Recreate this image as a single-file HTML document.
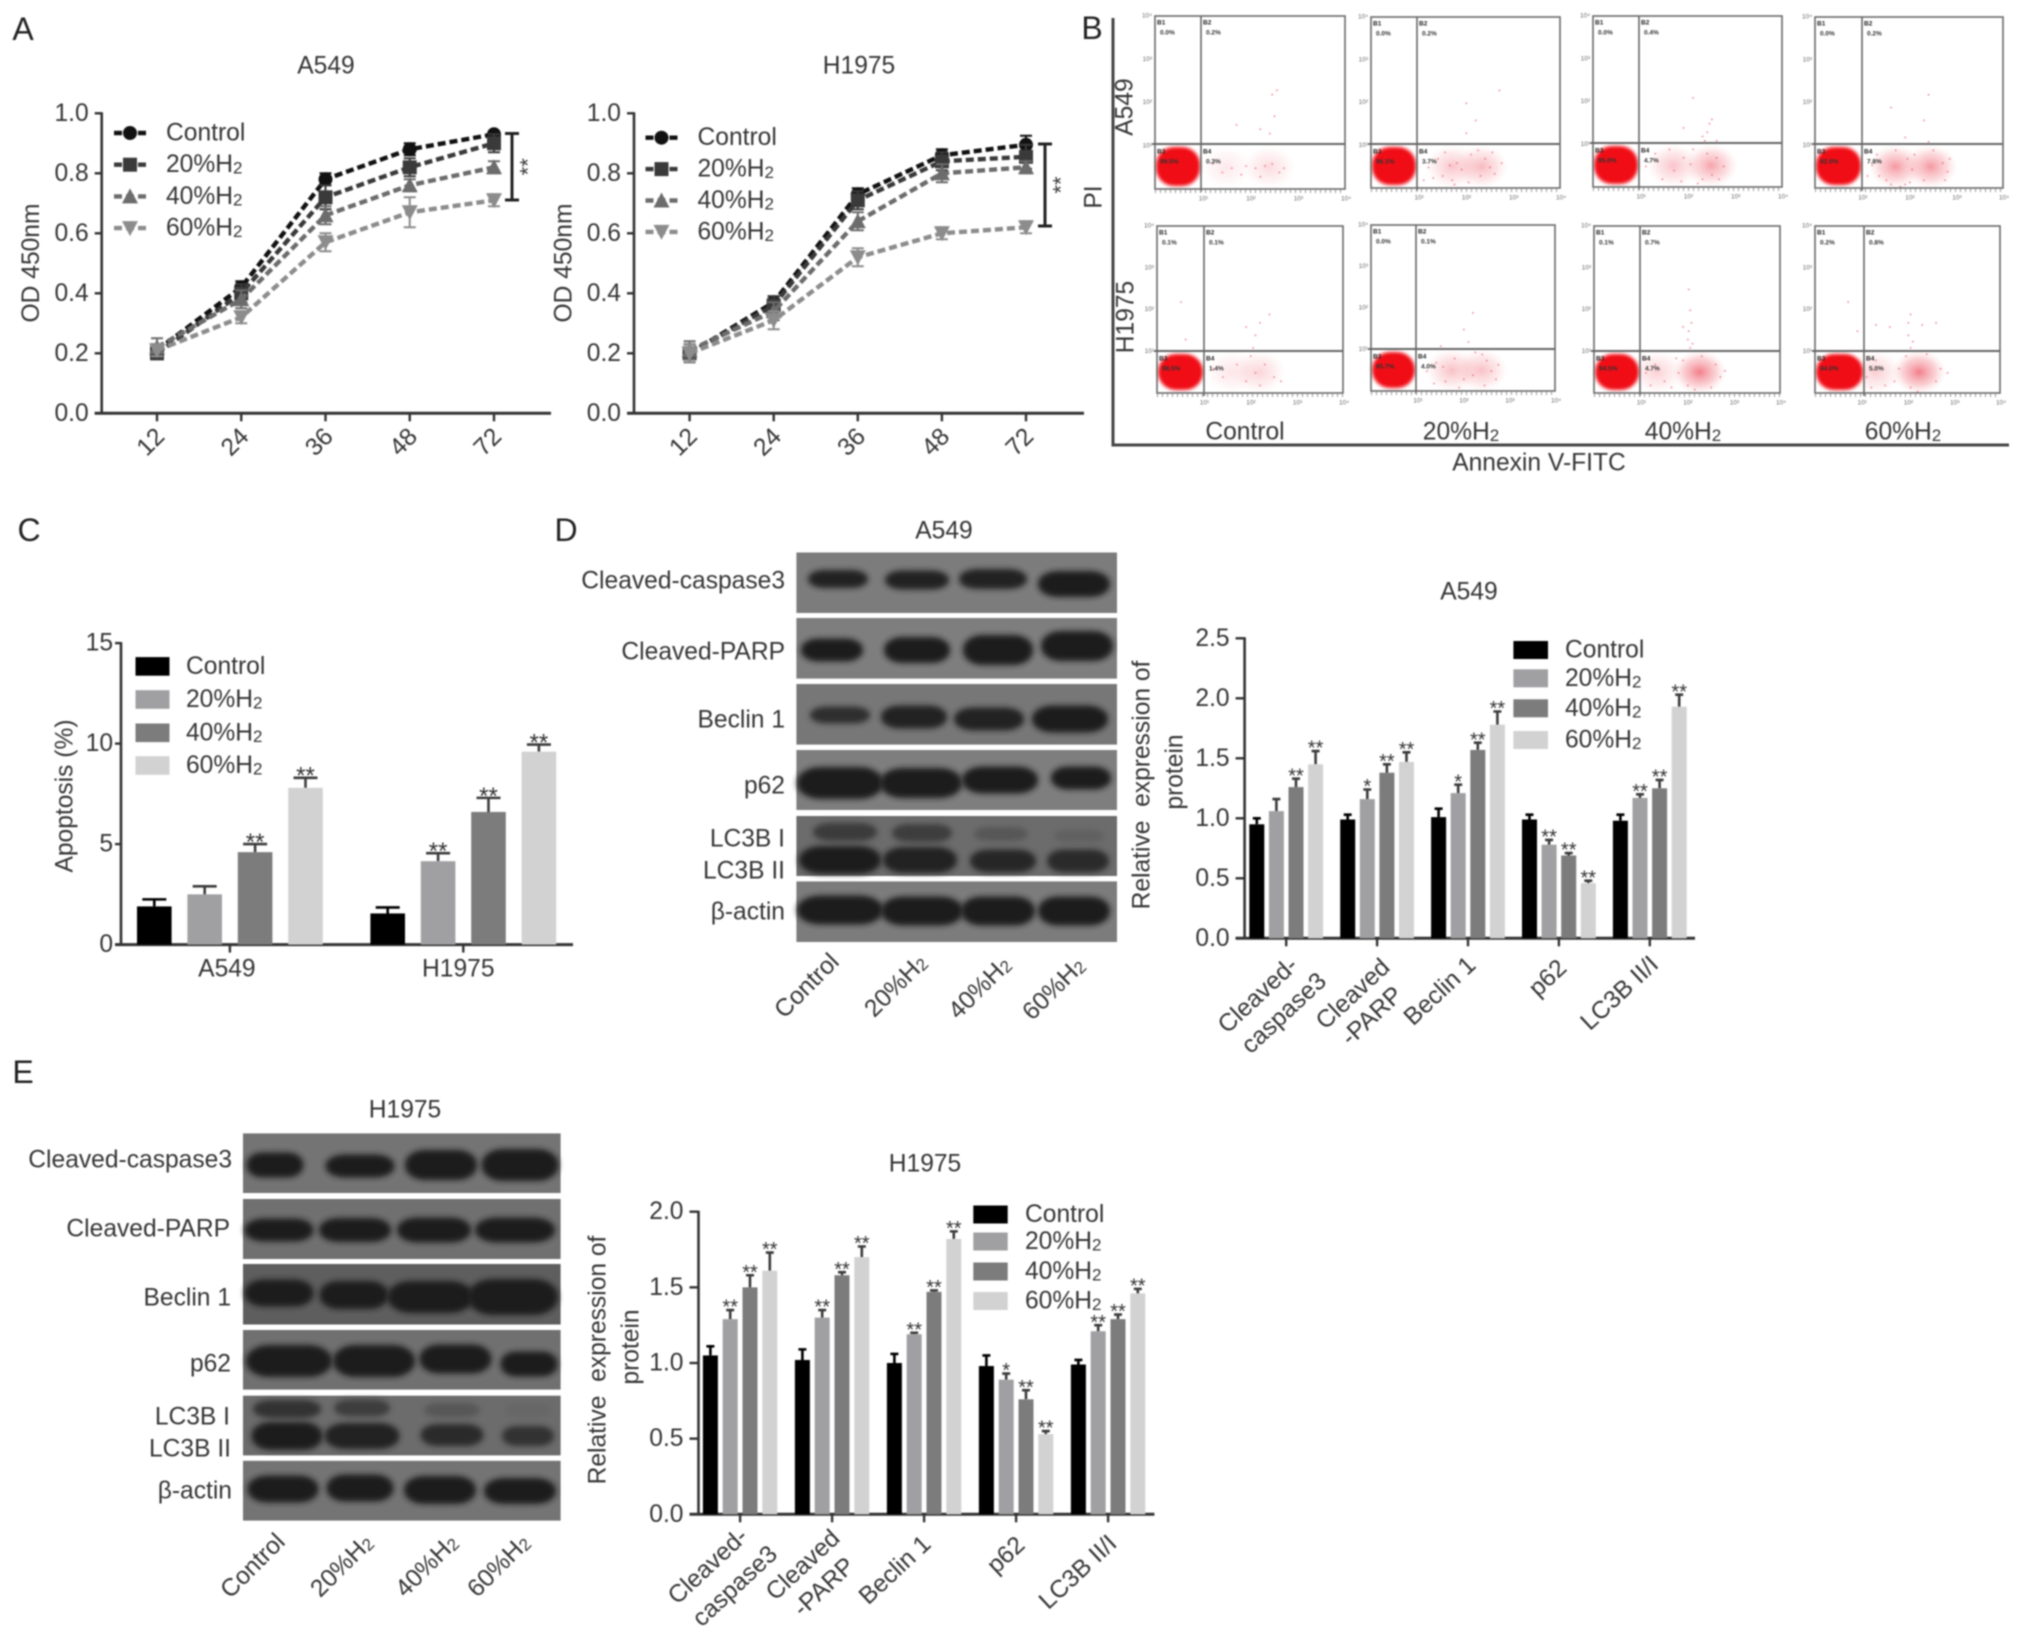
<!DOCTYPE html>
<html lang="en">
<head>
<meta charset="utf-8">
<title>Effects of H2 on A549 and H1975 cells</title>
<style>
html,body{margin:0;padding:0;background:#fff;}
svg{display:block;filter:blur(0.75px);}
text{font-family:"Liberation Sans",sans-serif;font-size:24.6px;fill:#363636;}
.letter{font-size:32px;fill:#222;}
.mid{text-anchor:middle;dominant-baseline:central;}
.end{text-anchor:end;dominant-baseline:central;}
</style>
</head>
<body>
<svg id="figure" width="2021" height="1638" viewBox="0 0 2021 1638" xmlns="http://www.w3.org/2000/svg">
<defs>
<filter id="soft" x="-20%" y="-50%" width="140%" height="200%"><feGaussianBlur stdDeviation="3"/></filter>
<filter id="softer" x="-20%" y="-20%" width="140%" height="140%"><feGaussianBlur stdDeviation="1.6"/></filter>
<radialGradient id="blob"><stop offset="0" stop-color="#ea0410"/><stop offset="0.62" stop-color="#f00c18"/><stop offset="0.82" stop-color="#f4505c" stop-opacity="0.75"/><stop offset="1" stop-color="#f8b0b0" stop-opacity="0"/></radialGradient>
<radialGradient id="cloud"><stop offset="0" stop-color="#ee5868"/><stop offset="0.6" stop-color="#f49098" stop-opacity="0.55"/><stop offset="1" stop-color="#f8c8c8" stop-opacity="0"/></radialGradient>
</defs>
<rect x="0" y="0" width="2021" height="1638" fill="#fff"/>

<text class="letter mid" x="23" y="29">A</text>
<text class="letter mid" x="1092" y="28">B</text>
<text class="letter mid" x="29" y="530">C</text>
<text class="letter mid" x="566" y="530">D</text>
<text class="letter mid" x="23" y="1072">E</text>

<g id="line-a549"></g>
<g id="line-h1975"></g>

<g id="flow-panels"></g>
<g>
<path d="M1113 18V445H2009" fill="none" stroke="#444" stroke-width="3"/>
<text class="mid" transform="rotate(-90 1094 197)" x="1094" y="197">PI</text>
<text class="mid" transform="rotate(-90 1125 107)" x="1125" y="107">A549</text>
<text class="mid" transform="rotate(-90 1126 317)" x="1126" y="317">H1975</text>
<text class="mid" x="1245" y="432">Control</text>
<text class="mid" x="1461" y="432">20%H<tspan font-size="17" dy="3">2</tspan></text>
<text class="mid" x="1683" y="432">40%H<tspan font-size="17" dy="3">2</tspan></text>
<text class="mid" x="1903" y="432">60%H<tspan font-size="17" dy="3">2</tspan></text>
<text class="mid" x="1539" y="463">Annexin V-FITC</text>
</g>

<g id="bar-apoptosis"></g>

<text class="mid" x="944" y="531">A549</text>
<g id="blot-d"></g>
<g>
<text class="end" x="785" y="581">Cleaved-caspase3</text>
<text class="end" x="785" y="652">Cleaved-PARP</text>
<text class="end" x="785" y="720">Beclin 1</text>
<text class="end" x="785" y="786">p62</text>
<text class="end" x="785" y="839">LC3B I</text>
<text class="end" x="785" y="871">LC3B II</text>
<text class="end" x="785" y="912">β-actin</text>
<text class="mid" transform="rotate(-45 807 986)" x="807" y="986">Control</text>
<text class="mid" transform="rotate(-45 896 986)" x="896" y="986">20%H<tspan font-size="17" dy="3">2</tspan></text>
<text class="mid" transform="rotate(-45 980 988)" x="980" y="988">40%H<tspan font-size="17" dy="3">2</tspan></text>
<text class="mid" transform="rotate(-45 1054 989)" x="1054" y="989">60%H<tspan font-size="17" dy="3">2</tspan></text>
</g>

<g id="bar-d"></g>

<text class="mid" x="405" y="1110">H1975</text>
<g id="blot-e"></g>
<g>
<text class="end" x="232" y="1160">Cleaved-caspase3</text>
<text class="end" x="230" y="1229">Cleaved-PARP</text>
<text class="end" x="231" y="1298">Beclin 1</text>
<text class="end" x="231" y="1364">p62</text>
<text class="end" x="230" y="1417">LC3B I</text>
<text class="end" x="231" y="1449">LC3B II</text>
<text class="end" x="232" y="1491">β-actin</text>
<text class="mid" transform="rotate(-45 253 1566)" x="253" y="1566">Control</text>
<text class="mid" transform="rotate(-45 342 1566)" x="342" y="1566">20%H<tspan font-size="17" dy="3">2</tspan></text>
<text class="mid" transform="rotate(-45 427 1566)" x="427" y="1566">40%H<tspan font-size="17" dy="3">2</tspan></text>
<text class="mid" transform="rotate(-45 499 1566)" x="499" y="1566">60%H<tspan font-size="17" dy="3">2</tspan></text>
</g>

<g id="bar-e"></g>
</svg>

<script>
/* ---------- Panel A data ---------- */
const lineCategories = ['12', '24', '36', '48', '72'];
const lineTicks = ['0.0', '0.2', '0.4', '0.6', '0.8', '1.0'];
const doseLabels = ['Control', '20%H2', '40%H2', '60%H2'];

const a549Control = [0.21, 0.42, 0.78, 0.88, 0.93];
const a549H20 = [0.20, 0.40, 0.72, 0.82, 0.90];
const a549H40 = [0.22, 0.38, 0.66, 0.76, 0.82];
const a549H60 = [0.21, 0.32, 0.57, 0.67, 0.71];
const a549ControlErr = [0.02, 0.02, 0.02, 0.02, 0.01];
const a549H20Err = [0.02, 0.03, 0.04, 0.03, 0.03];
const a549H40Err = [0.03, 0.03, 0.03, 0.02, 0.02];
const a549H60Err = [0.02, 0.02, 0.03, 0.05, 0.02];

const h1975Control = [0.20, 0.37, 0.73, 0.86, 0.895];
const h1975H20 = [0.20, 0.36, 0.71, 0.84, 0.855];
const h1975H40 = [0.21, 0.34, 0.64, 0.80, 0.82];
const h1975H60 = [0.20, 0.31, 0.52, 0.60, 0.62];
const h1975ControlErr = [0.03, 0.02, 0.02, 0.02, 0.03];
const h1975H20Err = [0.02, 0.03, 0.03, 0.03, 0.04];
const h1975H40Err = [0.03, 0.03, 0.03, 0.03, 0.02];
const h1975H60Err = [0.03, 0.03, 0.03, 0.02, 0.02];

/* ---------- Panel C data ---------- */
const apoCategories = ['A549', 'H1975'];
const apoTicks = ['0', '5', '10', '15'];
const apoControl = [1.9, 1.55];
const apoH20 = [2.5, 4.15];
const apoH40 = [4.6, 6.6];
const apoH60 = [7.8, 9.6];
const apoControlErr = [0.35, 0.3];
const apoH20Err = [0.4, 0.4];
const apoH40Err = [0.4, 0.7];
const apoH60Err = [0.5, 0.35];
const apoControlStars = ['', ''];
const apoH20Stars = ['', '**'];
const apoH40Stars = ['**', '**'];
const apoH60Stars = ['**', '**'];

/* ---------- Panels D / E bar data ---------- */
const proteinCategories = [['Cleaved-', 'caspase3'], ['Cleaved', '-PARP'], ['Beclin 1'], ['p62'], ['LC3B II/I']];
const dTicks = ['0.0', '0.5', '1.0', '1.5', '2.0', '2.5'];
const dControl = [0.95, 0.99, 1.01, 0.99, 0.98];
const dH20 = [1.06, 1.16, 1.21, 0.78, 1.17];
const dH40 = [1.26, 1.38, 1.57, 0.69, 1.25];
const dH60 = [1.45, 1.47, 1.78, 0.46, 1.93];
const dControlErr = [0.05, 0.04, 0.07, 0.04, 0.05];
const dH20Err = [0.10, 0.08, 0.07, 0.04, 0.03];
const dH40Err = [0.07, 0.07, 0.06, 0.02, 0.07];
const dH60Err = [0.11, 0.08, 0.11, 0.02, 0.10];
const dControlStars = ['', '', '', '', ''];
const dH20Stars = ['', '*', '*', '**', '**'];
const dH40Stars = ['**', '**', '**', '**', '**'];
const dH60Stars = ['**', '**', '**', '**', '**'];

const eTicks = ['0.0', '0.5', '1.0', '1.5', '2.0'];
const eControl = [1.05, 1.02, 1.00, 0.98, 0.99];
const eH20 = [1.29, 1.30, 1.19, 0.89, 1.21];
const eH40 = [1.50, 1.58, 1.47, 0.76, 1.29];
const eH60 = [1.61, 1.70, 1.82, 0.53, 1.46];
const eControlErr = [0.06, 0.07, 0.06, 0.07, 0.03];
const eH20Err = [0.06, 0.05, 0.01, 0.04, 0.04];
const eH40Err = [0.08, 0.02, 0.01, 0.06, 0.03];
const eH60Err = [0.12, 0.07, 0.05, 0.02, 0.03];
const eControlStars = ['', '', '', '', ''];
const eH20Stars = ['**', '**', '**', '*', '**'];
const eH40Stars = ['**', '**', '**', '**', '**'];
const eH60Stars = ['**', '**', '**', '**', '**'];

/* ---------- Panel B data: events in decade units (x, y) ---------- */
const flowQ1Pct = ['0.0%', '0.0%', '0.0%', '0.0%', '0.1%', '0.0%', '0.1%', '0.2%'];
const flowQ2Pct = ['0.2%', '0.2%', '0.4%', '0.2%', '0.1%', '0.1%', '0.7%', '0.8%'];
const flowQ3Pct = ['99.5%', '96.1%', '95.0%', '92.0%', '98.5%', '95.7%', '94.5%', '94.0%'];
const flowQ4Pct = ['0.3%', '3.7%', '4.7%', '7.8%', '1.4%', '4.0%', '4.7%', '5.0%'];
const flowCloudStrength = [[0.14, 0.22], [0.36, 0.42], [0.36, 0.55], [0.62, 0.62], [0.16, 0.26], [0.38, 0.38], [0.28, 0.78], [0.3, 0.78]];
const flowCloudX = [[1.5, 2.4], [1.72, 2.34], [1.7, 2.5], [1.71, 2.46], [1.6, 2.2], [1.76, 2.4], [1.35, 2.27], [1.3, 2.25]];
const flowEvents1 = [[1.2,.6],[1.4,.4],[1.6,.5],[1.8,.35],[1.9,.55],[2.1,.5],[2.3,.55],[2.45,.6],[2.6,.4],[2.7,.5],[2.2,.3],[2.4,1.3],[2.5,1.7],[2.45,2.2],[2.2,1.4],[2.55,2.3],[1.7,1.5]];
const flowEvents2 = [[1.2,.5],[1.4,.7],[1.5,.3],[1.7,.2],[1.8,.6],[1.9,.45],[2.1,.8],[2.3,.3],[2.4,.7],[2.5,.5],[2.6,.35],[1.75,.1],[2.0,1.3],[2.2,1.6],[2.0,2.0],[2.7,2.3],[1.1,.2],[1.55,.85],[1.65,.55],[2.25,.9],[2.55,.85],[2.75,.6],[1.3,.25],[2.05,.15]];
const flowEvents3 = [[1.1,.5],[1.3,.8],[1.6,.9],[1.7,.4],[1.9,.7],[2.1,.9],[2.3,.2],[2.4,.8],[2.5,.3],[2.6,.7],[2.2,.1],[2.35,1.1],[2.4,1.3],[2.45,1.5],[2.3,1.2],[2.5,1.6],[2.1,2.1],[1.9,1.4],[2.6,1.1],[1.45,.2],[1.85,.15],[2.75,.5],[2.65,.2],[2.05,.55]];
const flowEvents4 = [[1.1,.3],[1.3,.8],[1.5,.2],[1.7,.9],[1.9,.1],[2.1,.8],[2.3,.2],[2.5,.9],[2.7,.6],[2.8,.4],[2.4,1.1],[2.3,1.6],[2.4,2.2],[1.9,1.2],[1.6,1.9],[2.0,.15],[1.6,.1],[1.2,.55],[1.35,.3],[1.95,.7],[2.05,.45],[2.85,.7],[2.75,.2],[1.8,.05]];
const flowEvents5 = [[1.2,.6],[1.4,.4],[1.7,.7],[1.9,.3],[2.0,.9],[2.1,.5],[2.2,.2],[2.3,.7],[2.5,.4],[2.65,.3],[2.05,1.1],[2.1,1.4],[2.2,1.7],[2.4,1.9],[1.9,1.6],[.6,1.3],[.5,2.2]];
const flowEvents6 = [[1.2,.5],[1.4,.7],[1.6,.25],[1.8,.8],[2.0,.3],[2.2,.4],[2.4,.9],[2.6,.5],[2.7,.3],[2.45,.15],[2.0,1.5],[2.1,1.2],[2.2,1.9],[1.5,1.1],[1.9,.1],[1.35,.2],[1.55,.6],[2.5,.75],[2.75,.65],[2.25,.95]];
const flowEvents7 = [[1.1,.5],[1.3,.7],[1.5,.3],[1.8,.5],[1.9,.8],[2.0,.2],[2.3,.9],[2.5,.15],[2.6,.7],[2.7,.4],[2.05,1.1],[2.0,1.3],[2.02,1.5],[2.08,1.7],[2.05,2.0],[2.02,2.5],[1.9,1.6],[2.1,1.2],[1.65,.15],[1.75,.85],[2.8,.55],[2.15,.1],[1.2,.2]];
const flowEvents8 = [[1.1,.4],[1.3,.8],[1.5,.2],[1.8,.6],[1.95,.9],[2.05,.15],[2.4,.95],[2.6,.3],[2.7,.6],[2.05,1.1],[2.1,1.25],[2.0,1.4],[1.3,1.65],[1.6,1.6],[2.0,1.7],[2.3,1.65],[2.6,1.7],[.9,1.5],[.7,2.2],[2.05,1.9],[2.85,.5],[1.7,.3],[2.2,.05],[1.2,.15]];
const flowEventSets = [flowEvents1, flowEvents2, flowEvents3, flowEvents4, flowEvents5, flowEvents6, flowEvents7, flowEvents8];
const flowDecadeLabels = ['10⁰', '10¹', '10²', '10³', '10⁴'];

/* ---------- Layout only (not data) ---------- */
const flowLayout = [
  {l:1155,r:1345,t:16,b:189,gx:1201,gy:144},{l:1371,r:1560,t:17,b:188,gx:1417,gy:144},
  {l:1593,r:1782,t:16,b:187,gx:1639,gy:143},{l:1815,r:2003,t:17,b:188,gx:1862,gy:144},
  {l:1157,r:1343,t:226,b:393,gx:1204,gy:351},{l:1371,r:1555,t:225,b:391,gx:1416,gy:349},
  {l:1594,r:1780,t:226,b:393,gx:1640,gy:351},{l:1815,r:2000,t:226,b:393,gx:1864,gy:351}
];
const dLabelOffsets = [[[-28,57],[-2,75]],[[-24,56],[-5,78]],[[-28,53]],[[-11,40]],[[-30,55]]];
const eLabelOffsets = [[[-32,52],[-5,72]],[[-29,51],[-8,73]],[[-29,56]],[[-10,41]],[[-30,58]]];
const barFills = ['#000000', '#a0a0a3', '#7c7c7c', '#d2d2d2'];
const lineColors = ['#111111', '#3a3a3a', '#6c6c6c', '#8c8c8c'];

const SVGNS = 'http://www.w3.org/2000/svg';
function mk(parent, tag, attrs) {
  const node = document.createElementNS(SVGNS, tag);
  for (const k in attrs) node.setAttribute(k, attrs[k]);
  parent.appendChild(node);
  return node;
}
function labelText(node, label) {
  if (/H2$/.test(label)) {
    node.appendChild(document.createTextNode(label.slice(0, -1)));
    const sub = mk(node, 'tspan', {'font-size': 17, dy: 3});
    sub.textContent = '2';
  } else {
    node.textContent = label;
  }
}
function slug(s) { return String(s).toLowerCase().replace(/[^a-z0-9]+/g, '-').replace(/^-|-$/g, ''); }

function drawAxes(g, o) {
  const yLine = mk(g, 'line', {x1:o.axisX, x2:o.axisX, y1:o.y(o.max)-1, y2:o.y(0)+1, stroke:'#333', 'stroke-width':2.6});
  
  
  const xLine = mk(g, 'line', {x1:o.axisX-o.tick, x2:o.axisEnd, y1:o.y(0), y2:o.y(0), stroke:'#333', 'stroke-width':3});
  
  
  o.ticks.forEach(function (label) {
    const v = Number(label);
    const tickMark = mk(g, 'line', {x1:o.axisX-o.tick, x2:o.axisX, y1:o.y(v), y2:o.y(v), stroke:'#333', 'stroke-width':2.4});
    
    
    const tickText = mk(g, 'text', {x:o.axisX-o.tick-o.gap, y:o.y(v), 'class':'end'});
    
    
    tickText.textContent = label;
  });
}

function drawTitle(g, x, y, label, name) {
  const t = mk(g, 'text', {x:x, y:y, 'class':'mid'});
  
  
  t.textContent = label;
}

function drawYTitle(g, x, y, label, name) {
  const t = mk(g, 'text', {x:x, y:y, 'class':'mid', transform:'rotate(-90 ' + x + ' ' + y + ')'});
  
  
  t.textContent = label;
}

function drawMarker(g, i, x, y, size, fill) {
  let m;
  if (i === 0) m = mk(g, 'circle', {cx:x, cy:y, r:size, fill:fill});
  else if (i === 1) m = mk(g, 'rect', {x:x-size, y:y-size, width:2*size, height:2*size, fill:fill});
  else if (i === 2) m = mk(g, 'polygon', {points:[x, y-size-1, x+size+1, y+size, x-size-1, y+size].join(' '), fill:fill});
  else m = mk(g, 'polygon', {points:[x, y+size+1, x+size+1, y-size, x-size-1, y-size].join(' '), fill:fill});
  return m;
}

function drawLineChart(c) {
  const g = document.getElementById(c.id);
  const y = function (v) { return c.y0 - v * c.pxPerUnit; };
  const x = function (i) { return c.x0 + i * c.step; };
  drawTitle(g, c.titleX, c.titleY, c.title, 'chart-title');
  drawYTitle(g, c.axisX - 70, 263, 'OD 450nm', 'y-axis-title');
  drawAxes(g, {axisX:c.axisX, axisEnd:c.axisEnd, y:y, max:1, ticks:lineTicks, tick:7, gap:6});
  lineCategories.forEach(function (cat, i) {
    const tk = mk(g, 'line', {x1:x(i), x2:x(i), y1:y(0), y2:y(0)+8, stroke:'#333', 'stroke-width':2.4});
    
    
    const lx = x(i) - 6, ly = y(0) + 29;
    const tl = mk(g, 'text', {x:lx, y:ly, 'class':'mid', transform:'rotate(-45 ' + lx + ' ' + ly + ')'});
    
    
    tl.textContent = cat;
  });
  c.series.forEach(function (vals, s) {
    const color = lineColors[s];
    const errs = c.errors[s];
    const pts = vals.map(function (v, i) { return x(i) + ',' + y(v); }).join(' ');
    const line = mk(g, 'polyline', {points:pts, fill:'none', stroke:color, 'stroke-width':4.4, 'stroke-dasharray':'8 4'});
    
    
    vals.forEach(function (v, i) {
      const err = mk(g, 'path', {d:'M' + (x(i)-6) + ' ' + y(v+errs[i]) + 'H' + (x(i)+6) + 'M' + x(i) + ' ' + y(v+errs[i]) + 'V' + y(v-errs[i]) + 'M' + (x(i)-6) + ' ' + y(v-errs[i]) + 'H' + (x(i)+6), stroke:color, 'stroke-width':2, fill:'none'});
      
      
      const pt = drawMarker(g, s, x(i), y(v), 7, color);
      
      
    });
    const ly = c.legendY + s * c.legendStep;
    const seg = mk(g, 'line', {x1:c.legendX-16, x2:c.legendX+18, y1:ly, y2:ly, stroke:color, 'stroke-width':4.4, 'stroke-dasharray':'8 4'});
    
    
    const lm = drawMarker(g, s, c.legendX, ly, 7, color);
    
    
    const lt = mk(g, 'text', {x:c.legendX+36, y:ly, style:'dominant-baseline:central'});
    
    
    labelText(lt, doseLabels[s]);
  });
  const br = mk(g, 'path', {d:'M' + (c.bracketX-7) + ' ' + c.bracketTop + 'H' + (c.bracketX+7) + 'M' + c.bracketX + ' ' + c.bracketTop + 'V' + c.bracketBottom + 'M' + (c.bracketX-7) + ' ' + c.bracketBottom + 'H' + (c.bracketX+7), stroke:'#222', 'stroke-width':3, fill:'none'});
  
  
  const sx = c.bracketX + 16, sy = (c.bracketTop + c.bracketBottom) / 2;
  const st = mk(g, 'text', {x:sx, y:sy, 'class':'mid', style:'font-size:22px', transform:'rotate(-90 ' + sx + ' ' + sy + ')'});
  
  
  st.textContent = '**';
}

function drawBarChart(c) {
  const g = document.getElementById(c.id);
  const y = function (v) { return c.y0 - v * c.pxPerUnit; };
  const x = function (cat, s) { return c.x0 + cat * c.groupStep + s * c.barStep; };
  const max = Number(c.ticks[c.ticks.length - 1]);
  drawAxes(g, {axisX:c.axisX, axisEnd:c.axisEnd, y:y, max:max, ticks:c.ticks, tick:c.tick, gap:c.gap});
  c.series.forEach(function (vals, s) {
    vals.forEach(function (v, cat) {
      const cx = x(cat, s) + c.barW / 2;
      const err = c.errors[s][cat];
      const w = mk(g, 'path', {d:'M' + (cx-c.capW/2) + ' ' + y(v+err) + 'H' + (cx+c.capW/2) + 'M' + cx + ' ' + y(v+err) + 'V' + y(v), stroke:s === 0 ? '#000' : '#3c3c3c', 'stroke-width':2.6, fill:'none'});
      
      
      const bar = mk(g, 'rect', {x:x(cat, s), y:y(v), width:c.barW, height:y(0)-y(v), fill:barFills[s]});
      
      
      const mark = c.stars[s][cat];
      if (mark) {
        const star = mk(g, 'text', {x:cx, y:y(v+err)+c.starFont*0.58-8, 'text-anchor':'middle', style:'font-size:' + c.starFont + 'px;fill:#333'});
        
        
        star.textContent = mark;
      }
    });
  });
  c.categories.forEach(function (lines, cat) {
    const tx = x(cat, 1.5) + c.barW / 2;
    const tk = mk(g, 'line', {x1:tx, x2:tx, y1:y(0), y2:y(0)+8, stroke:'#333', 'stroke-width':2.4});
    
    
    lines.forEach(function (line, li) {
      const off = c.labelOffsets[cat][li];
      const lx = tx + off[0], ly = y(0) + off[1];
      const attrs = {x:lx, y:ly, 'class':'mid'};
      if (c.labelRotate) attrs.transform = 'rotate(' + c.labelRotate + ' ' + lx + ' ' + ly + ')';
      const tl = mk(g, 'text', attrs);
      
      
      tl.textContent = line;
    });
  });
  doseLabels.forEach(function (label, s) {
    const ly = c.legendY[s];
    const sw = mk(g, 'rect', {x:c.legendX, y:ly-c.swatchH/2, width:c.swatchW, height:c.swatchH, fill:barFills[s]});
    
    
    const lt = mk(g, 'text', {x:c.legendTextX, y:ly, style:'dominant-baseline:central'});
    
    
    labelText(lt, label);
  });
}

/* ---------- Build charts ---------- */
drawLineChart({
  id:'line-a549', title:'A549', titleX:326, titleY:66, y0:413.3, pxPerUnit:300, x0:157, step:84.25,
  axisX:101.7, axisEnd:551, legendX:130, legendY:133, legendStep:31.7, bracketX:512, bracketTop:133.5, bracketBottom:200,
  series:[a549Control, a549H20, a549H40, a549H60], errors:[a549ControlErr, a549H20Err, a549H40Err, a549H60Err]
});
drawLineChart({
  id:'line-h1975', title:'H1975', titleX:859, titleY:66, y0:413.3, pxPerUnit:300, x0:689.6, step:84.1,
  axisX:634, axisEnd:1084, legendX:661.5, legendY:137.7, legendStep:31.4, bracketX:1045, bracketTop:144, bracketBottom:226,
  series:[h1975Control, h1975H20, h1975H40, h1975H60], errors:[h1975ControlErr, h1975H20Err, h1975H40Err, h1975H60Err]
});

(function () {
  const g = document.getElementById('bar-apoptosis');
  drawYTitle(g, 65, 796, 'Apoptosis (%)', 'y-axis-title');
})();
drawBarChart({
  id:'bar-apoptosis', ticks:apoTicks, y0:944.6, pxPerUnit:20.1, x0:137, barStep:50.4, groupStep:233.4, barW:34.6, capW:24,
  axisX:121, axisEnd:573, tick:6, gap:2, starFont:24, categories:[['A549'], ['H1975']], catNames:apoCategories,
  labelOffsets:[[[-3,24.5]], [[-5,24.5]]], labelRotate:0,
  series:[apoControl, apoH20, apoH40, apoH60], errors:[apoControlErr, apoH20Err, apoH40Err, apoH60Err],
  stars:[apoControlStars, apoH20Stars, apoH40Stars, apoH60Stars],
  legendX:135.5, legendY:[666.4, 699.5, 732.8, 765.5], swatchW:34, swatchH:18.6, legendTextX:186
});

(function () {
  const g = document.getElementById('bar-d');
  drawTitle(g, 1469, 592, 'A549', 'chart-title');
  drawYTitle(g, 1142, 785, 'Relative\u00a0\u00a0expression of', 'y-axis-title-line-1');
  drawYTitle(g, 1175, 772, 'protein', 'y-axis-title-line-2');
})();
drawBarChart({
  id:'bar-d', ticks:dTicks, y0:938.3, pxPerUnit:120, x0:1249.3, barStep:19.6, groupStep:90.9, barW:15, capW:8,
  axisX:1244.6, axisEnd:1695, tick:9, gap:6, starFont:20, categories:proteinCategories, catNames:['caspase3', 'parp', 'beclin', 'p62', 'lc3b'],
  labelOffsets:dLabelOffsets, labelRotate:-43,
  series:[dControl, dH20, dH40, dH60], errors:[dControlErr, dH20Err, dH40Err, dH60Err],
  stars:[dControlStars, dH20Stars, dH40Stars, dH60Stars],
  legendX:1513.4, legendY:[650, 678.3, 708.3, 740], swatchW:34.6, swatchH:18, legendTextX:1565
});

(function () {
  const g = document.getElementById('bar-e');
  drawTitle(g, 925, 1164, 'H1975', 'chart-title');
  drawYTitle(g, 598, 1360, 'Relative\u00a0\u00a0expression of', 'y-axis-title-line-1');
  drawYTitle(g, 631, 1347, 'protein', 'y-axis-title-line-2');
})();
drawBarChart({
  id:'bar-e', ticks:eTicks, y0:1514.3, pxPerUnit:151.3, x0:702.9, barStep:19.8, groupStep:92, barW:15, capW:8,
  axisX:698.5, axisEnd:1154.4, tick:9, gap:6, starFont:20, categories:proteinCategories, catNames:['caspase3', 'parp', 'beclin', 'p62', 'lc3b'],
  labelOffsets:eLabelOffsets, labelRotate:-43,
  series:[eControl, eH20, eH40, eH60], errors:[eControlErr, eH20Err, eH40Err, eH60Err],
  stars:[eControlStars, eH20Stars, eH40Stars, eH60Stars],
  legendX:973.3, legendY:[1214.5, 1241.5, 1271.5, 1301], swatchW:34.4, swatchH:18, legendTextX:1025
});

/* ---------- Flow cytometry ---------- */
(function () {
  const root = document.getElementById('flow-panels');
  flowLayout.forEach(function (f, p) {
    const g = mk(root, 'g', {});
    
    
    const fx = function (d) { return f.l + d / 4 * (f.r - f.l); };
    const fy = function (d) { return f.b - d / 4 * (f.b - f.t); };
    flowCloudX[p].forEach(function (cx, k) {
      const cl = mk(g, 'ellipse', {cx:fx(cx), cy:fy(0.5), rx:27, ry:22, fill:'url(#cloud)', opacity:flowCloudStrength[p][k]});
      
      
    });
    const blob = mk(g, 'rect', {x:f.l+1, y:f.gy+3, width:f.gx-f.l-2, height:f.b-f.gy-6, rx:18, ry:18, fill:'#f00c18', filter:'url(#softer)'});
    
    
    flowEventSets[p].forEach(function (ev) {
      const dot = mk(g, 'rect', {x:fx(ev[0]), y:fy(ev[1]), width:1.6, height:1.6, fill:'#e62a40', opacity:0.55});
      
      
    });
    const frame = mk(g, 'rect', {x:f.l, y:f.t, width:f.r-f.l, height:f.b-f.t, fill:'none', stroke:'#6a6a6a', 'stroke-width':1.6});
    
    
    const gv = mk(g, 'line', {x1:f.gx, x2:f.gx, y1:f.t, y2:f.b+3, stroke:'#666', 'stroke-width':1.6});
    
    
    const gh = mk(g, 'line', {x1:f.l-3, x2:f.r, y1:f.gy, y2:f.gy, stroke:'#666', 'stroke-width':2});
    
    
    const minor = mk(g, 'line', {x1:f.l, x2:f.r, y1:f.b+2.5, y2:f.b+2.5, stroke:'#999', 'stroke-width':3, 'stroke-dasharray':'1 4'});
    
    
    const quad = [['B1', flowQ1Pct[p], f.l+2, f.t+7], ['B2', flowQ2Pct[p], f.gx+2, f.t+7], ['B3', flowQ3Pct[p], f.l+2, f.gy+8], ['B4', flowQ4Pct[p], f.gx+2, f.gy+8]];
    quad.forEach(function (q) {
      const qn = mk(g, 'text', {x:q[2], y:q[3], style:'font-size:6.5px;font-weight:bold;fill:#222;dominant-baseline:central'});
      
      
      qn.textContent = q[0];
      const qp = mk(g, 'text', {x:q[2]+3, y:q[3]+10, style:'font-size:6.5px;font-weight:bold;fill:#333;dominant-baseline:central'});
      
      
      qp.textContent = q[1];
    });
    flowDecadeLabels.forEach(function (lab, d) {
      if (d > 0) {
        const xt = mk(g, 'text', {x:fx(d)+1, y:f.b+10, 'text-anchor':'middle', style:'font-size:6.5px;fill:#666;dominant-baseline:central'});
        
        
        xt.textContent = lab;
        const yt = mk(g, 'text', {x:f.l-3, y:fy(d), 'text-anchor':'end', style:'font-size:6.5px;fill:#666;dominant-baseline:central'});
        
        
        yt.textContent = lab;
      }
    });
  });
})();

/* ---------- Western blots (photographic panels approximated with soft bands) ---------- */
function drawBlot(id, left, right, rows) {
  const root = document.getElementById(id);
  rows.forEach(function (row, r) {
    const bg = mk(root, 'rect', {x:left, y:row.t, width:right-left, height:row.b-row.t, fill:row.bg});
    
    
    row.bands.forEach(function (b) {
      b.cx.forEach(function (cx, i) {
        const band = mk(root, 'rect', {x:cx-b.rx[i], y:b.cy[i]-b.ry[i], width:2*b.rx[i], height:2*b.ry[i], rx:b.rx[i]*0.55, ry:b.ry[i]*0.95, fill:b.shade[i], filter:'url(#soft)'});
        
        
      });
    });
  });
}
const DARK = ['#1c1c1c', '#1c1c1c', '#1c1c1c', '#1c1c1c'];
drawBlot('blot-d', 796.4, 1117, [
  {t:552.5, b:613, bg:'#7c7c7c', bands:[{cx:[838,917,993,1074], rx:[30,32,34,36], cy:[579,580,579,584], ry:[9,9.5,10,13], shade:['#242424','#242424','#222222','#1c1c1c']}]},
  {t:618, b:678.6, bg:'#7e7e7e', bands:[{cx:[832,917,998,1077], rx:[31,33,35,36], cy:[650,650,650,646], ry:[11.5,13,15,15], shade:DARK}]},
  {t:684, b:744.6, bg:'#777777', bands:[{cx:[840,914,989,1070], rx:[30,33,35,38], cy:[715,717,719,719], ry:[8.5,11.5,11.5,13.5], shade:['#2e2e2e','#222','#202020','#1c1c1c']}]},
  {t:750, b:810, bg:'#7e7e7e', bands:[{cx:[840,921,1000,1081], rx:[43,41,38,30], cy:[783,783,780,778], ry:[16,15,13.5,11.5], shade:DARK}]},
  {t:816, b:876, bg:'#6c6c6c', bands:[
    {cx:[845,922,1001,1079], rx:[32,30,27,25], cy:[832,833,834,836], ry:[9,9,7,6.5], shade:['#3a3a3a','#3c3c3c','#565656','#606060']},
    {cx:[840,920,1003,1078], rx:[41,37,33,31], cy:[860,860,861,861], ry:[14,13,11.5,11.5], shade:['#1e1e1e','#202020','#282828','#2a2a2a']}]},
  {t:881.4, b:942, bg:'#7c7c7c', bands:[{cx:[840,922,998,1074], rx:[43,41,37,36], cy:[910,911,911,911], ry:[14.5,14.5,14.5,14.5], shade:DARK}]}
]);
drawBlot('blot-e', 243, 560.6, [
  {t:1133.4, b:1193, bg:'#747474', bands:[{cx:[275,360,441,520], rx:[28.5,34.5,36,38.5], cy:[1165,1166,1165,1165], ry:[12.5,11.5,15,16], shade:DARK}]},
  {t:1199, b:1259, bg:'#707070', bands:[{cx:[279,355,434,515], rx:[34.5,36,37,40], cy:[1230,1230,1230,1230], ry:[11.5,12,12.5,12.5], shade:DARK}]},
  {t:1264, b:1324.5, bg:'#5e5e5e', bands:[{cx:[279,354,430.5,513], rx:[34.5,34.5,43,45], cy:[1293,1295,1297,1297], ry:[13.5,14,16,18], shade:DARK}]},
  {t:1330, b:1389.6, bg:'#707070', bands:[{cx:[289,374,455.4,529], rx:[43,41,36,28.5], cy:[1361,1361,1359,1364], ry:[16,16,14.5,12.5], shade:DARK}]},
  {t:1395.7, b:1455.4, bg:'#6c6c6c', bands:[
    {cx:[287,362,452,528], rx:[34,28,28,23], cy:[1409,1408,1410,1410], ry:[9,8.5,7,6.5], shade:['#333333','#3c3c3c','#575757','#666666']},
    {cx:[287,362,452,528], rx:[35.5,37.5,31.5,26], cy:[1436,1436,1435,1436], ry:[14,13,11,10], shade:['#1f1f1f','#232323','#2a2a2a','#323232']}]},
  {t:1460.8, b:1520.6, bg:'#747474', bands:[{cx:[283,360,440,520], rx:[35.5,33.5,36,36], cy:[1489,1488,1490,1491], ry:[13.5,13.5,14,13], shade:DARK}]}
]);
</script>
</body>
</html>
